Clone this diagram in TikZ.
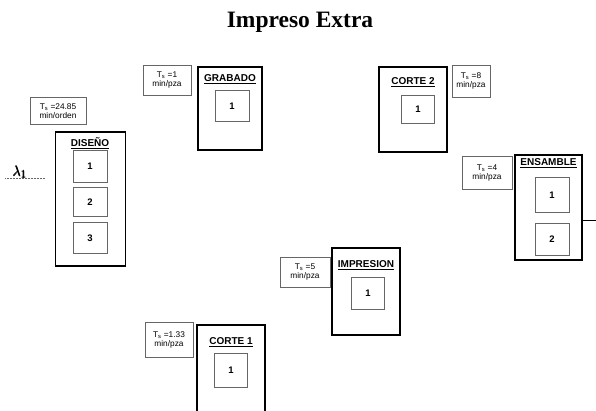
\documentclass[tikz,border=0pt]{standalone}
\usepackage{amsmath}
\usepackage{fontspec}
\setmainfont{Liberation Serif}
\setsansfont{Liberation Sans}
\usetikzlibrary{calc}
\tikzset{
  station/.style={draw=black, line width=1.8pt, inner sep=0pt},
  slot/.style={draw=black!60, line width=0.6pt, inner sep=0pt, fill=white,
    font=\sffamily\bfseries\fontsize{9.5}{10}\selectfont},
  tsbox/.style={draw=black!60, line width=0.6pt, inner sep=1pt, align=center,
    font=\sffamily\fontsize{8.3}{9}\selectfont},
  head/.style={font=\sffamily\bfseries\fontsize{10}{11}\selectfont, inner sep=0pt},
}
\newcommand{\Ts}{T\textsubscript{s}}
\begin{document}
\begin{tikzpicture}[x=1pt,y=-1pt]
\useasboundingbox (0,0) rectangle (596,410);
\fill[white] (0,0) rectangle (596,410);

\node[font=\bfseries\fontsize{23.5}{25}\selectfont, inner sep=0pt] (title) at (300,22) {Impreso Extra};

% DISENO
\node[station, minimum width=70pt, minimum height=134pt] (dis) at (90.5,199) {};
\node[head] (dish) at (90,143) {\underline{DISEÑO}};
\node[slot, minimum width=34pt, minimum height=32pt] (dis1) at (90,166) {1};
\node[slot, minimum width=34pt, minimum height=29pt] (dis2) at (90,202) {2};
\node[slot, minimum width=34pt, minimum height=31pt] (dis3) at (90,238) {3};
\node[tsbox, minimum width=56pt, minimum height=27pt] (tsdis) at (58,111) {\Ts{} =24.85\\min/orden};
\node[inner sep=0pt] (lam) at (20,172) {\fontsize{15}{16}\selectfont\pmb{$\lambda_1$}};
\coordinate (lamA) at (5,178);
\coordinate (lamB) at (45,178);
\draw[densely dotted, black!60, line width=0.5pt] (lamA) -- (lamB);

% GRABADO
\node[station, minimum width=64pt, minimum height=83pt] (gra) at (230,108.5) {};
\node[head] (grah) at (230,79) {\underline{GRABADO}};
\node[slot, minimum width=34pt, minimum height=31pt] (gra1) at (232,106) {1};
\node[tsbox, minimum width=48pt, minimum height=30pt] (tsgra) at (167,80) {\Ts{} =1\\min/pza};

% CORTE 2
\node[station, minimum width=68pt, minimum height=85pt] (co2) at (413,109.5) {};
\node[head] (co2h) at (413,82) {\underline{CORTE 2}};
\node[slot, minimum width=33pt, minimum height=28pt] (co21) at (418,109) {1};
\node[tsbox, minimum width=38pt, minimum height=32pt] (tsco2) at (471,81) {\Ts{} =8\\min/pza};

% ENSAMBLE
\node[station, minimum width=67pt, minimum height=105pt] (ens) at (548.5,207.5) {};
\node[head] (ensh) at (548.5,163) {\underline{ENSAMBLE}};
\node[slot, minimum width=34pt, minimum height=35pt] (ens1) at (552,195) {1};
\node[slot, minimum width=34pt, minimum height=32pt] (ens2) at (552,239) {2};
\node[tsbox, minimum width=50pt, minimum height=33pt] (tsens) at (487,173) {\Ts{} =4\\min/pza};
\coordinate (out) at (596,220);
\draw[line width=0.6pt] (ens.east |- out) -- (out);

% IMPRESION
\node[station, minimum width=68pt, minimum height=87pt] (imp) at (366,291.5) {};
\node[head] (imph) at (366,265) {\underline{IMPRESION}};
\node[slot, minimum width=33pt, minimum height=32pt] (imp1) at (368,293) {1};
\node[tsbox, minimum width=50pt, minimum height=30pt] (tsimp) at (305,272) {\Ts{} =5\\min/pza};

% CORTE 1
\node[station, minimum width=68pt, minimum height=92pt] (co1) at (231,371) {};
\node[head] (co1h) at (231,342) {\underline{CORTE 1}};
\node[slot, minimum width=33pt, minimum height=34pt] (co11) at (231,370) {1};
\node[tsbox, minimum width=48pt, minimum height=35pt] (tsco1) at (169,340) {\Ts{} =1.33\\min/pza};
\end{tikzpicture}
\end{document}
